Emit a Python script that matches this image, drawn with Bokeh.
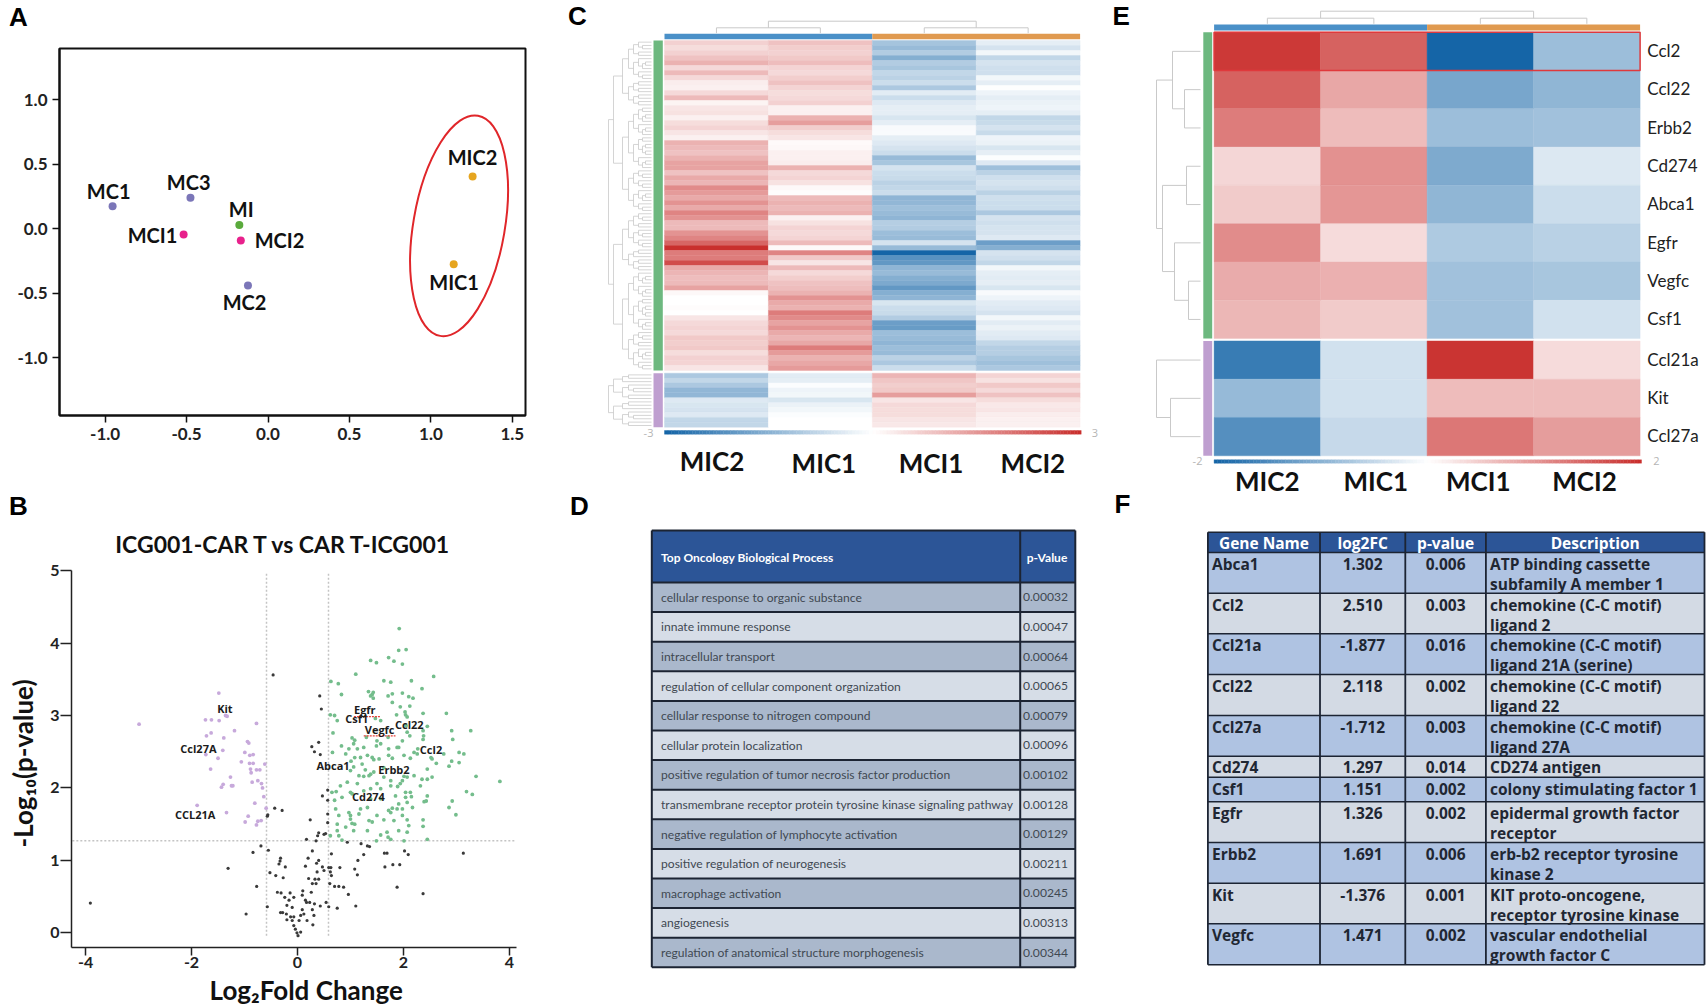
from bokeh.plotting import figure
from bokeh.layouts import column, row
from bokeh.models import Range1d, FixedTicker, Label, LinearColorMapper, ColumnDataSource, NumeralTickFormatter
from bokeh.core.properties import value
from bokeh.embed import file_html
from bokeh.resources import INLINE
import numpy as np

# ---------- Panel A data ----------
pca_labels = ["MC1", "MC2", "MC3", "MI", "MCI1", "MCI2", "MIC1", "MIC2"]
pca_x = [-0.954, -0.123, -0.476, -0.176, -0.518, -0.167, 1.14, 1.256]
pca_y = [0.175, -0.44, 0.24, 0.03, -0.044, -0.09, -0.274, 0.405]
pca_group = ["MC", "MC", "MC", "MI", "MCI", "MCI", "MIC", "MIC"]

# ---------- Panel B data ----------
purple_x = [-2.99, -1.485, -1.737, -1.624, -1.479, -1.359, -1.328, -1.189, -0.774, -1.63, -1.718, -1.391, -0.944, -0.919, -0.994, -1.41, -1.73, -1.50, -1.64, -1.06, -0.90, -0.837, -0.906, -0.837, -0.887, -0.774, -0.711, -0.617, -0.875, -1.265, -1.246, -1.22, -1.403, -1.435, -0.856, -0.749, -0.68, -0.66, -0.636, -0.806, -0.592, -1.894, -1.34, -0.931, -0.988, -0.749, -0.686, -0.774]
purple_y = [2.88, 3.31, 2.94, 2.94, 2.93, 3.00, 2.99, 2.79, 2.89, 2.76, 2.72, 2.69, 2.64, 2.62, 2.49, 2.52, 2.46, 2.41, 2.26, 2.36, 2.45, 2.46, 2.34, 2.34, 2.26, 2.25, 2.25, 2.33, 2.21, 2.15, 2.03, 2.03, 2.05, 2.01, 2.08, 2.10, 2.06, 2.00, 1.88, 1.79, 1.72, 1.76, 1.66, 1.61, 1.53, 1.54, 1.55, 1.49]
black_x = [-3.91, -0.46, 0.42, 0.45, 0.40, 0.27, 0.32, 0.43, 0.57, 0.47, 0.57, 0.57, -0.43, -0.29, -0.56, -0.57, 0.24, 0.57, 0.53, 0.50, 0.40, 0.38, 0.35, 0.17, 0.94, 1.20, 1.32, 1.36, -0.69, -0.84, -0.55, 0.28, 0.64, 1.25, 1.64, 1.69, 2.02, 2.09, 3.13, -1.31, -0.32, -0.33, -0.35, -0.23, 0.20, 0.15, 0.40, 0.36, 0.47, 0.59, 0.63, 0.80, 1.14, 1.08, 1.65, 1.80, 1.93, 0.37, 0.50, -0.52, -0.41, -0.27, 0.21, 0.33, 0.40, 0.28, 0.35, 0.62, 0.64, 0.61, 0.70, 0.78, 0.87, 1.13, -0.77, 0.96, 1.88, 2.37, 0.26, 0.10, 0.15, 0.17, 0.09, -0.38, -0.31, -0.14, -0.24, -0.07, -0.16, -0.20, -0.10, -0.57, 0.23, 0.32, 0.43, 0.54, 0.59, 0.75, 1.10, 0.09, -0.32, -0.21, -0.28, 0.06, 0.28, 0.31, -0.97, -0.20, -0.13, -0.07, 0.03, 0.18, 0.29, -0.07, -0.04, -0.01, 0.06, 0.01, 0.12, -0.10]
black_y = [0.41, 3.56, 3.27, 3.09, 2.63, 2.57, 2.50, 2.46, 1.97, 1.89, 1.83, 1.64, 1.72, 1.69, 1.63, 1.61, 1.56, 1.52, 1.37, 1.36, 1.38, 1.34, 1.27, 1.29, 1.25, 1.23, 1.20, 1.19, 1.20, 1.11, 1.14, 1.13, 1.09, 1.08, 1.10, 1.10, 1.13, 1.08, 1.10, 0.89, 1.03, 0.99, 0.95, 0.91, 1.03, 0.92, 1.00, 0.96, 0.91, 0.90, 0.90, 0.90, 1.00, 0.88, 0.91, 0.94, 0.94, 0.84, 0.86, 0.83, 0.79, 0.76, 0.75, 0.74, 0.74, 0.68, 0.68, 0.84, 0.79, 0.68, 0.64, 0.64, 0.63, 0.80, 0.64, 0.53, 0.63, 0.54, 0.56, 0.58, 0.45, 0.42, 0.52, 0.56, 0.55, 0.55, 0.49, 0.49, 0.45, 0.38, 0.35, 0.36, 0.42, 0.40, 0.37, 0.42, 0.36, 0.34, 0.37, 0.32, 0.28, 0.26, 0.28, 0.24, 0.32, 0.24, 0.26, 0.18, 0.22, 0.22, 0.17, 0.17, 0.11, 0.10, 0.05, 0.00, 0.01, -0.04, 0.26, 0.17]
green_x = [1.92, 1.91, 2.05, 1.72, 1.38, 1.49, 1.82, 1.98, 1.10, 2.57, 0.63, 0.77, 1.63, 1.76, 2.15, 2.35, 1.34, 1.43, 1.41, 1.38, 0.83, 1.71, 1.79, 1.98, 2.10, 2.18, 1.43, 1.79, 1.94, 2.12, 2.03, 2.37, 2.81, 0.62, 0.70, 1.87, 2.04, 2.07, 0.75, 1.47, 1.57, 2.45, 2.05, 2.37, 2.38, 2.37, 2.91, 3.27, 2.93, 0.67, 1.03, 1.08, 1.06, 0.83, 1.30, 1.50, 1.71, 1.88, 2.07, 2.12, 1.98, 0.97, 1.13, 1.25, 1.49, 1.57, 1.72, 1.91, 2.27, 2.20, 2.52, 2.54, 2.76, 3.05, 3.14, 2.91, 3.05, 2.62, 0.66, 0.91, 1.08, 1.01, 1.19, 1.32, 1.41, 1.44, 1.72, 1.79, 2.01, 2.13, 2.26, 2.45, 2.86, 1.00, 1.16, 1.25, 1.38, 1.06, 1.44, 1.63, 2.01, 2.07, 1.98, 1.94, 1.89, 2.20, 2.35, 2.45, 2.54, 3.37, 3.82, 0.65, 0.73, 0.81, 0.84, 0.70, 1.25, 1.03, 1.38, 1.57, 1.76, 2.13, 2.04, 2.04, 2.15, 2.32, 2.45, 2.39, 2.43, 2.92, 3.19, 3.30, 2.86, 2.99, 0.72, 0.78, 0.97, 1.00, 1.00, 0.75, 0.91, 1.03, 1.08, 1.19, 1.35, 1.41, 1.50, 1.63, 1.72, 1.79, 1.76, 1.91, 1.98, 2.07, 1.98, 1.82, 2.07, 2.10, 2.37, 2.37, 0.75, 0.78, 1.06, 0.84, 1.49, 1.57, 1.69, 1.71, 1.76, 1.91, 2.07, 2.45, 1.00, 1.13, 1.35, 1.50, 1.57, 1.38, 1.85, 1.63, 0.94, 1.22, 1.28, 1.54, 1.76, 2.17, 1.88, 1.32, 1.16, 1.32, 0.62, 2.01]
green_y = [4.20, 3.90, 3.91, 3.80, 3.76, 3.73, 3.75, 3.71, 3.57, 3.54, 3.47, 3.44, 3.48, 3.46, 3.48, 3.37, 3.33, 3.32, 3.29, 3.27, 3.29, 3.27, 3.30, 3.31, 3.26, 3.24, 3.24, 3.18, 3.12, 3.13, 3.05, 3.03, 3.03, 3.01, 3.00, 3.01, 3.01, 2.98, 2.93, 2.96, 2.93, 2.85, 2.86, 2.79, 2.72, 2.67, 2.79, 2.79, 2.67, 2.76, 2.69, 2.66, 2.61, 2.58, 2.70, 2.65, 2.70, 2.56, 2.77, 2.72, 2.65, 2.54, 2.54, 2.56, 2.58, 2.61, 2.54, 2.56, 2.54, 2.49, 2.42, 2.40, 2.47, 2.49, 2.47, 2.37, 2.35, 2.34, 2.49, 2.47, 2.42, 2.37, 2.42, 2.45, 2.42, 2.39, 2.45, 2.41, 2.45, 2.41, 2.47, 2.26, 2.30, 2.24, 2.17, 2.16, 2.19, 2.29, 2.22, 2.15, 2.16, 2.15, 2.10, 2.06, 2.02, 2.17, 2.12, 2.12, 2.15, 2.16, 2.09, 1.94, 1.95, 2.03, 1.87, 1.83, 1.96, 1.92, 1.99, 1.99, 2.03, 1.94, 1.94, 1.87, 1.88, 2.03, 1.89, 1.81, 1.82, 1.82, 1.95, 1.91, 1.73, 1.63, 1.71, 1.62, 1.66, 1.62, 1.57, 1.50, 1.46, 1.51, 1.50, 1.71, 1.55, 1.53, 1.62, 1.56, 1.69, 1.72, 1.66, 1.78, 1.71, 1.80, 1.62, 1.55, 1.56, 1.48, 1.56, 1.47, 1.41, 1.34, 1.41, 1.28, 1.27, 1.35, 1.39, 1.32, 1.29, 1.41, 1.39, 1.29, 1.94, 2.06, 2.17, 2.06, 1.85, 1.85, 1.89, 2.28, 2.08, 2.33, 2.25, 2.40, 2.10, 1.73, 1.71, 1.73, 1.64, 1.41, 1.34, 1.27]
gene_labels_b = ["Kit", "Ccl27A", "CCL21A", "Abca1", "Egfr", "Csf1", "Vegfc", "Ccl22", "Ccl2", "Erbb2", "Cd274"]
gene_lx = [-1.37, -1.87, -1.93, 0.67, 1.27, 1.12, 1.55, 2.11, 2.52, 1.82, 1.34]
gene_ly = [3.09, 2.54, 1.63, 2.31, 3.08, 2.96, 2.80, 2.87, 2.53, 2.26, 1.88]

# ---------- Panel C data ----------
c_samples = ["MIC2", "MIC1", "MCI1", "MCI2"]
c_mic2 = [.6, .45, .6, .8, 1.0, .5, .9, .5, .25, .2, .5, .9, .15, .35, .4, .2, .45, .55, .35, .2, 1.0, .9, .8, 1.0, 1.2, 1.2, .8, 1.1, .95, 1.5, 1.3, 1.1, 1.4,
          1.1, 1.6, 1.4, .9, .9, 1.4, 1.6, 2.0, 2.9, 1.7, 1.7, 2.3, 1.1, .95, .85, .9, 1.2, .1, .02, 0, .05, .02, .35, .5, .55, .5, .7, .65, .7, .45, .6, .55, .35]
c_mic1 = [.8, .65, .6, .7, .85, .55, .5, .65, .8, .55, .45, .5, .6, .2, .2, 1.0, 1.25, .65, .45, .35, .08, .1, .2, .2, .25, 1.0, .5, .55, .4, .1, .05, .9, 1.0,
          .9, 1.0, .2, .4, .55, .5, .55, .9, .1, 1.6, .7, .35, .9, .5, .65, .8, .85, 1.0, 1.4, 1.1, 1.0, 1.7, 1.5, 1.2, 1.4, 1.1, .95, 1.15, 1.7, 1.3, 1.0, 1.15, 1.3]
c_mci1 = [-1.05, -1.2, -.9, -1.4, -.9, -1.0, -.7, -.8, -.6, -.95, -.35, -.6, -.4, -.3, -.3, -.45, -.3, -.1, -.08, -.3, -.4, -.5, -.6, -1.2, -1.0, -.5, -.6, -.65, -.8, -.7, -.6, -1.3, -1.25,
          -1.1, -1.2, -1.3, -.85, -.9, -1.15, -1.2, -.5, -1.2, -2.8, -1.9, -1.8, -1.3, -1.2, -1.4, -1.5, -1.8, -1.4, -1.3, -.45, -.6, -.65, -.9, -1.7, -1.75, -1.15, -1.2, -1.3, -1.15, -1.2, -.8, -.95, -.6]
c_mci2 = [-.3, -.5, -.15, -.7, -.5, -.55, -.55, -.15, -.3, -.03, -.2, -.3, -.25, -.2, -.3, -.7, -.65, -.5, -.65, -.2, -.25, -.45, -.3, -.05, -.4, -1.1, -.8, -.55, -.5, -.55, -.8, -.55, -.6,
          -.6, -.95, -.5, -.55, -.5, -.5, -.4, -1.7, -1.4, -.5, -.55, -.7, -.15, -.3, -.35, -.3, -.45, -.1, -.2, -.35, -.4, -.5, -.15, -.35, -.25, -.35, -.4, -.7, -.85, -.85, -1.0, -1.1, -.95]
c2_mic2 = [-.95, -.7, -.95, -1.25, -1.25, -.4, -.45, -.5, -.4, -.7, -.7]
c2_mic1 = [-.35, -.3, -.05, -.2, -.15, -.45, -.25, -.15, -.05, 0, -.02]
c2_mci1 = [.95, .75, .65, .7, 1.25, .35, .5, .45, .45, .35, .3]
c2_mci2 = [.55, .4, .7, .5, .8, .45, .3, .35, .25, .2, .2]

# ---------- Panel D data ----------
d_terms = ["cellular response to organic substance", "innate immune response", "intracellular transport",
           "regulation of cellular component organization", "cellular response to nitrogen compound",
           "cellular protein localization", "positive regulation of tumor necrosis factor production",
           "transmembrane receptor protein tyrosine kinase signaling pathway",
           "negative regulation of lymphocyte activation", "positive regulation of neurogenesis",
           "macrophage activation", "angiogenesis", "regulation of anatomical structure morphogenesis"]
d_pvals = ["0.00032", "0.00047", "0.00064", "0.00065", "0.00079", "0.00096", "0.00102", "0.00128", "0.00129", "0.00211", "0.00245", "0.00313", "0.00344"]

# ---------- Panel E data ----------
e_genes = ["Ccl2", "Ccl22", "Erbb2", "Cd274", "Abca1", "Egfr", "Vegfc", "Csf1", "Ccl21a", "Kit", "Ccl27a"]
e_mic2 = [1.9, 1.5, 1.25, .4, .5, 1.1, .8, .7, -1.7, -.9, -1.45]
e_mic1 = [1.5, .85, .65, 1.05, 1.0, .35, .75, .5, -.4, -.4, -.5]
e_mci1 = [-2.0, -1.15, -.85, -1.1, -.95, -.7, -.8, -.8, 1.95, .65, 1.3]
e_mci2 = [-.85, -.95, -.8, -.3, -.45, -.6, -.75, -.4, .35, .65, .95]

# ---------- Panel F data ----------
f_head = ["Gene Name", "log2FC", "p-value", "Description"]
f_gene = ["Abca1", "Ccl2", "Ccl21a", "Ccl22", "Ccl27a", "Cd274", "Csf1", "Egfr", "Erbb2", "Kit", "Vegfc"]
f_fc = ["1.302", "2.510", "-1.877", "2.118", "-1.712", "1.297", "1.151", "1.326", "1.691", "-1.376", "1.471"]
f_p = ["0.006", "0.003", "0.016", "0.002", "0.003", "0.014", "0.002", "0.002", "0.006", "0.001", "0.002"]
f_desc = [["ATP binding cassette", "subfamily A member 1"], ["chemokine (C-C motif)", "ligand 2"],
          ["chemokine (C-C motif)", "ligand 21A (serine)"], ["chemokine (C-C motif)", "ligand 22"],
          ["chemokine (C-C motif)", "ligand 27A"], ["CD274 antigen"], ["colony stimulating factor 1"],
          ["epidermal growth factor", "receptor"], ["erb-b2 receptor tyrosine", "kinase 2"],
          ["KIT proto-oncogene,", "receptor tyrosine kinase"], ["vascular endothelial", "growth factor C"]]

# ---------- layout constants (reference pixel positions) ----------
COLX = [0, 560, 1100, 1708]
PAGE_H = 1005
SPLIT12 = 490      # boundary between the panels of columns 1 and 2
SPLIT3 = 520       # boundary between E and F (panel letter F lies in E's canvas)
B_TOP = 558        # where the volcano plot's canvas starts
GREY = "#c9c9c9"
LATO = "Lato"


def blank(width, height, xr, yr):
    p = figure(width=width, height=height, x_range=xr, y_range=yr,
               toolbar_location=None, output_backend="svg", min_border=0, min_border_left=0, min_border_right=0,
               min_border_top=0, min_border_bottom=0, x_axis_type=None, y_axis_type=None, frame_align=False)
    p.grid.visible = False
    p.outline_line_color = None
    p.background_fill_color = None
    p.border_fill_color = None
    return p


def strip(x0, x1, y0, y1):
    """A text-only strip whose data space is the page position."""
    return blank(x1 - x0, y1 - y0, Range1d(x0, x1), Range1d(y1, y0))


def note(p, x, y, text, size, font=LATO, style="bold", color="#111111", align="center", angle=0):
    p.add_layout(Label(x=x, y=y, text=text, text_font=font, text_font_size=f"{size}px", text_font_style=style,
                       text_color=color, text_align=align, text_baseline="middle", angle=angle, angle_units="deg"))


def letter(p, x, y, t):
    note(p, x, y, t, 26, font="Liberation Sans", color="#000000")


def mapper(limit):
    ramp = np.linspace(0, 1, 128)
    low = np.array([21, 101, 167])
    high = np.array([201, 47, 45])
    white = np.array([255, 255, 255])
    cols = [white + (low - white) * (1 - t) for t in ramp] + [white + (high - white) * t for t in ramp]
    pal = ["#%02x%02x%02x" % tuple(int(round(v)) for v in c) for c in cols]
    return LinearColorMapper(palette=pal, low=-limit, high=limit)


def cells(p, xs, y0, y1, vals, m):
    src = ColumnDataSource(dict(l=xs, r=[x + 1 for x in xs], t=y0, b=y1, v=vals))
    p.quad(left="l", right="r", top="t", bottom="b", source=src,
           fill_color={"field": "v", "transform": m}, line_color={"field": "v", "transform": m}, line_width=0.4)


def colorbar(p, x0, x1, y0, y1, limit, m):
    vals = list(np.linspace(-limit, limit, 120))
    edges = np.linspace(x0, x1, 121)
    src = ColumnDataSource(dict(l=edges[:-1], r=edges[1:], t=[y0] * 120, b=[y1] * 120, v=vals))
    p.quad(left="l", right="r", top="t", bottom="b", source=src,
           fill_color={"field": "v", "transform": m}, line_color={"field": "v", "transform": m}, line_width=0.4)


# ---------- Panel A ----------
ax0, axu = 267.5, 162.9
ay0, ayu = 228.3, 129.0
a_l, a_r, a_t, a_b = 59.0, 525.0, 48.0, 415.0
hdrA = strip(0, 560, 0, 46)
letter(hdrA, 18, 16, "A")
fA = figure(width=560, height=SPLIT12 - 46, x_range=Range1d((a_l - ax0) / axu, (a_r - ax0) / axu),
            y_range=Range1d((ay0 - a_b) / ayu, (ay0 - a_t) / ayu), toolbar_location=None, output_backend="svg",
            min_border_left=59, min_border_right=35, min_border_top=2, min_border_bottom=75, frame_align=False)
fA.grid.visible = False
fA.outline_line_color = "#111111"
fA.outline_line_width = 2
for ax, ticks in ((fA.xaxis[0], [-1, -.5, 0, .5, 1, 1.5]), (fA.yaxis[0], [-1, -.5, 0, .5, 1])):
    ax.ticker = FixedTicker(ticks=ticks)
    ax.formatter = NumeralTickFormatter(format="0.0")
    ax.major_tick_in = 0
    ax.major_tick_out = 7
    ax.minor_tick_line_color = None
    ax.major_tick_line_color = "#111111"
    ax.major_tick_line_width = 1.5
    ax.axis_line_color = "#111111"
    ax.axis_line_width = 2
    ax.major_label_text_font = LATO
    ax.major_label_text_font_style = "bold"
    ax.major_label_text_font_size = "17px"
    ax.major_label_text_color = "#222222"
    ax.major_label_standoff = 5
group_col = {"MC": "#7b76b8", "MI": "#5aaa3c", "MCI": "#e8218c", "MIC": "#e6a51f"}
fA.scatter(pca_x, pca_y, size=8, color=[group_col[g] for g in pca_group], line_color=None)
fA.ellipse(x=[1.173], y=[0.023], width=91.5, height=223.3, angle=-9.75, angle_units="deg", width_units="screen",
           height_units="screen", fill_color=None, line_color="#e0262a", line_width=2)
A_x = lambda px: (px - ax0) / axu
A_y = lambda py: (ay0 - py) / ayu
label_px = {"MC1": (108.2, 190.8), "MC3": (188.2, 181.8), "MI": (240.7, 208.2), "MCI1": (152, 234.8),
            "MCI2": (279, 239.2), "MC2": (244, 301.2), "MIC2": (472, 156.5), "MIC1": (453.6, 281.5)}
for k, (px, py) in label_px.items():
    note(fA, A_x(px), A_y(py), k, 20)

# ---------- Panel B ----------
bx0, bxu = 297.0, 52.98
by0, byu = 932.3, 72.47
b_l, b_r, b_t, b_b = 71.0, 516.0, 570.0, 947.0
hdrB = strip(0, 560, SPLIT12, B_TOP)
letter(hdrB, 18, 505, "B")
note(hdrB, 283, 543.5, "ICG001-CAR T vs CAR T-ICG001", 23)
ylabB = strip(0, 40, B_TOP, 975)
note(ylabB, 22, 763, "-Log\u2081\u2080(p-value)", 26, angle=90)
fB = figure(width=520, height=975 - B_TOP, x_range=Range1d((b_l - bx0) / bxu, (b_r - bx0) / bxu),
            y_range=Range1d((by0 - b_b) / byu, 5.002), toolbar_location=None, output_backend="svg",
            min_border_left=31, min_border_right=44, min_border_top=int(b_t - B_TOP), min_border_bottom=28, frame_align=False)
fB.grid.visible = False
fB.outline_line_color = None
for ax, ticks, out in ((fB.xaxis[0], [-4, -2, 0, 2, 4], 8), (fB.yaxis[0], [0, 1, 2, 3, 4, 5], 11)):
    ax.ticker = FixedTicker(ticks=ticks)
    ax.formatter = NumeralTickFormatter(format="0")
    ax.major_tick_in = 0
    ax.major_tick_out = out
    ax.minor_tick_line_color = None
    ax.major_tick_line_color = "#222222"
    ax.major_tick_line_width = 1.5
    ax.axis_line_color = "#222222"
    ax.axis_line_width = 1.5
    ax.major_label_text_font = LATO
    ax.major_label_text_font_style = "bold"
    ax.major_label_text_font_size = "16px"
    ax.major_label_text_color = "#222222"
    ax.major_label_standoff = 1
fB.segment(x0=[-0.585, 0.585], y0=[-0.04, -0.04], x1=[-0.585, 0.585], y1=[4.98, 4.98],
           line_color="#c4c4c4", line_dash="2 2", line_width=1.5)
fB.segment(x0=[-4.25], y0=[1.27], x1=[4.13], y1=[1.27], line_color="#c4c4c4", line_dash="2 2", line_width=1.5)
fB.scatter(black_x, black_y, size=3.2, color="#3a3a3a", line_color=None)
fB.scatter(green_x, green_y, size=3.8, color="#74bd8c", line_color=None)
fB.scatter(purple_x, purple_y, size=3.8, color="#c7a9db", line_color=None)
fB.line([1.065, 1.56], [2.985, 2.985], line_color="#e8403a", line_width=1.3, line_dash="2 1")
fB.line([1.25, 1.85], [2.72, 2.72], line_color="#e8403a", line_width=1.3, line_dash="2 1")
src_b = ColumnDataSource(dict(x=gene_lx, y=gene_ly, t=gene_labels_b))
fB.text("x", "y", text="t", source=src_b, text_font=value("Open Sans"), text_font_style="bold", text_font_size="11px",
        text_align="center", text_baseline="middle", text_color="#1c1c1c")
xlabB = strip(0, 560, 975, PAGE_H)
note(xlabB, 305.7, 989, "Log\u2082Fold Change", 26)

# ---------- Panel C ----------
cX = lambda px: (px - 664.0) / 103.9
cY = lambda py: (py - 40.0) / 5.0
fC = blank(COLX[2] - COLX[1], SPLIT12, Range1d(cX(560), cX(1100)), Range1d(cY(SPLIT12), cY(0)))
mC = mapper(2.7)
y_top = list(range(66))
c2_start = cY(372.7)
c2_step = (54.0 / 11) / 5.0
y2_top = [c2_start + j * c2_step for j in range(11)]
for i, (a, b) in enumerate(zip((c_mic2, c_mic1, c_mci1, c_mci2), (c2_mic2, c2_mic1, c2_mci1, c2_mci2))):
    cells(fC, [i] * 66, y_top, [y + 1 for y in y_top], a, mC)
    cells(fC, [i] * 11, y2_top, [y + c2_step for y in y2_top], b, mC)
fC.quad(left=[0, 2], right=[2, 4], top=[cY(33.3)] * 2, bottom=[cY(38.7)] * 2, fill_color=["#4a90c8", "#e09a50"], line_color=None)
fC.quad(left=[cX(653)] * 2, right=[cX(662.3)] * 2, top=[cY(40), cY(372.7)], bottom=[cY(370), cY(426.7)],
        fill_color=["#6db87f", "#bf9fd0"], line_color=None)
colorbar(fC, 0, (1080.7 - 664) / 103.9, cY(430), cY(433.7), 2.7, mC)
note(fC, cX(648), cY(432), "-3", 11, font="Open Sans", style="normal", color="#b5b5b5")
note(fC, cX(1094.4), cY(432), "3", 11, font="Open Sans", style="normal", color="#b5b5b5")
for name, px, py in zip(c_samples, (711.5, 823.4, 930.5, 1032.4), (460.7, 462, 462, 462)):
    note(fC, cX(px), cY(py), name, 26)
letter(fC, cX(577), cY(15), "C")

# column dendrogram for C
fC.multi_line(xs=[[.5, .5, 1.5, 1.5], [2.5, 2.5, 3.5, 3.5], [1, 1, 3, 3]],
              ys=[[cY(32.7), cY(27.3), cY(27.3), cY(32.7)], [cY(32.7), cY(27.3), cY(27.3), cY(32.7)],
                  [cY(27.3), cY(20.7), cY(20.7), cY(27.3)]], line_color=GREY, line_width=1)

# row dendrogram for C: merge heights by tree depth, in pixels from the leaves
depth_h = [43, 38, 29, 23, 18, 13, 9, 6, 3, 1.5]
split_frac = [.52, .38, .6, .45, .55, .33, .5, .62, .42]
seg_x, seg_y = [], []


def grow(lo, hi, depth, y0, step):
    if hi - lo == 1:
        return y0 + (lo + .5) * step, 651.0
    m = lo + max(1, min(hi - lo - 1, int(round((hi - lo) * split_frac[depth % len(split_frac)]))))
    ya, xa = grow(lo, m, depth + 1, y0, step)
    yb, xb = grow(m, hi, depth + 1, y0, step)
    xd = 651.0 - depth_h[min(depth, len(depth_h) - 1)]
    seg_x.append([cX(xa), cX(xd), cX(xd), cX(xb)])
    seg_y.append([cY(ya), cY(ya), cY(yb), cY(yb)])
    return (ya + yb) / 2, xd


grow(0, 100, 0, 40.0, 3.3)
grow(0, 16, 0, 372.7, 3.375)
fC.multi_line(xs=seg_x, ys=seg_y, line_color=GREY, line_width=0.8)

# ---------- Panel D ----------
fD = strip(560, 1100, SPLIT12, PAGE_H)
dr0, drh = 582.0, 29.6
d_x = [651.3, 1019.7, 1074.8]
n = len(d_terms)
tops = [dr0 + i * drh for i in range(n)]
fD.quad(left=[d_x[0]], right=[d_x[2]], top=[530], bottom=[dr0], fill_color="#2c5597", line_color=None)
fD.quad(left=[d_x[0]] * n, right=[d_x[2]] * n, top=tops, bottom=[t + drh for t in tops],
        fill_color=["#aab8cc" if i % 2 == 0 else "#d6dde7" for i in range(n)], line_color=None)
fD.segment(x0=[d_x[0]] * (n + 2), x1=[d_x[2]] * (n + 2), y0=[530, dr0] + [t + drh for t in tops],
           y1=[530, dr0] + [t + drh for t in tops], line_color="#1c2433", line_width=2)
fD.segment(x0=d_x, x1=d_x, y0=[530] * 3, y1=[dr0 + n * drh] * 3, line_color="#1c2433", line_width=2)
fD.text(x=[660.5] * n, y=[t + drh / 2 for t in tops], text=d_terms, text_font=value(LATO), text_font_size="12.1px",
        text_baseline="middle", text_color="#3f4852")
fD.text(x=[1022.5] * n, y=[t + drh / 2 for t in tops], text=d_pvals, text_font=value(LATO), text_font_size="12.1px",
        text_baseline="middle", text_color="#3f4852")
fD.text(x=[660.5, 1026.2], y=[556.5, 556.5], text=["Top Oncology Biological Process", "p-Value"],
        text_font=value(LATO), text_font_size="12px", text_font_style="bold", text_baseline="middle", text_color="#ffffff")
letter(fD, 579, 505, "D")

# ---------- Panel E ----------
eX = lambda px: (px - 1213.6) / 106.5
eY = lambda py: (py - 31.7) / 38.3
fE = blank(COLX[3] - COLX[2], SPLIT3, Range1d(eX(1100), eX(1708)), Range1d(eY(SPLIT3), eY(0)))
mE = mapper(2)
e_rows = [float(i) for i in range(8)] + [8.06, 9.06, 10.06]
for i, vals in enumerate((e_mic2, e_mic1, e_mci1, e_mci2)):
    cells(fE, [i] * 11, e_rows, [r + 1 for r in e_rows], vals, mE)
fE.quad(left=[0, 2], right=[2, 4], top=[eY(24)] * 2, bottom=[eY(30)] * 2, fill_color=["#4a90c8", "#e09a50"], line_color=None)
fE.quad(left=[eX(1202.8)] * 2, right=[eX(1211.7)] * 2, top=[0, 8.06], bottom=[8, 11.06], fill_color=["#6db87f", "#bf9fd0"], line_color=None)
fE.quad(left=[0], right=[4], top=[0], bottom=[1], fill_color=None, line_color="#e0393c", line_width=1.5)
colorbar(fE, 0, eX(1641), eY(459.3), eY(462.7), 2, mE)
note(fE, eX(1197), eY(460.7), "-2", 11, font="Open Sans", style="normal", color="#b5b5b5")
note(fE, eX(1656), eY(460.7), "2", 11, font="Open Sans", style="normal", color="#b5b5b5")
fE.text(x=[eX(1646.7)] * 11, y=[r + .48 for r in e_rows], text=e_genes, text_font=value(LATO), text_font_size="17px",
        text_baseline="middle", text_color="#222222")
for name, px in zip(c_samples, (1266.7, 1375.3, 1477.7, 1584)):
    note(fE, eX(px), eY(480), name, 26)
letter(fE, eX(1120.6), eY(15), "E")
letter(fE, eX(1122), eY(503), "F")
fE.multi_line(xs=[[.5, .5, 1.5, 1.5], [2.5, 2.5, 3.5, 3.5], [1, 1, 3, 3]],
              ys=[[eY(23.3), eY(17.7), eY(17.7), eY(23.3)], [eY(23.3), eY(17.7), eY(17.7), eY(23.3)],
                  [eY(17.7), eY(10.7), eY(10.7), eY(17.7)]], line_color=GREY, line_width=1)
# row merges: (merge height in px, left branch, right branch); ints are rows
e_tree_a = (44, (28, 0, (16, 1, 2)), (38, (14, 3, 4), (26, 5, (12, 6, 7))))
e_tree_b = (44, 8, (30, 9, 10))
ex_seg, ey_seg = [], []


def walk(node):
    if isinstance(node, int):
        return e_rows[node] + .5, 1200.0
    h, a, b = node
    ya, xa = walk(a)
    yb, xb = walk(b)
    xd = 1200.0 - h
    ex_seg.append([eX(xa), eX(xd), eX(xd), eX(xb)])
    ey_seg.append([ya, ya, yb, yb])
    return (ya + yb) / 2, xd


walk(e_tree_a)
walk(e_tree_b)
fE.multi_line(xs=ex_seg, ys=ey_seg, line_color=GREY, line_width=1)

# ---------- Panel F ----------
fF = strip(1100, 1708, SPLIT3, PAGE_H)
f_x = [1207.4, 1319.5, 1404.8, 1485.4, 1704.0]
f_y = [552, 592.7, 633.3, 674, 715, 755.7, 776.7, 801.3, 842, 882.7, 923.3, 964.3]
m = len(f_gene)
fF.quad(left=[f_x[0]], right=[f_x[4]], top=[531.7], bottom=[552], fill_color="#2c5597", line_color=None)
fF.quad(left=[f_x[0]] * m, right=[f_x[4]] * m, top=f_y[:-1], bottom=f_y[1:],
        fill_color=["#afc3e2" if i % 2 == 0 else "#d3dae4" for i in range(m)], line_color=None)
fF.segment(x0=[f_x[0]] * (m + 2), x1=[f_x[4]] * (m + 2), y0=[531.7] + f_y, y1=[531.7] + f_y, line_color="#1c2433", line_width=1.6)
fF.segment(x0=f_x, x1=f_x, y0=[531.7] * 5, y1=[964.3] * 5, line_color="#1c2433", line_width=1.8)
FONT_F = "Open Sans"
FS = "15.5px"
hdr_c = [(f_x[i] + f_x[i + 1]) / 2 for i in range(4)]
fF.text(x=hdr_c, y=[542] * 4, text=f_head, text_font=value(FONT_F), text_font_size=FS, text_font_style="bold",
        text_align="center", text_baseline="middle", text_color="#ffffff")
row_line1 = [t + 11.3 for t in f_y[:-1]]
row_line1[5] = 766.5
row_line1[6] = 788.5
fF.text(x=[1211.5] * m, y=row_line1, text=f_gene, text_font=value(FONT_F), text_font_size=FS, text_font_style="bold",
        text_baseline="middle", text_color="#1f2733")
fF.text(x=[hdr_c[1]] * m, y=row_line1, text=f_fc, text_font=value(FONT_F), text_font_size=FS, text_font_style="bold",
        text_align="center", text_baseline="middle", text_color="#1f2733")
fF.text(x=[hdr_c[2]] * m, y=row_line1, text=f_p, text_font=value(FONT_F), text_font_size=FS, text_font_style="bold",
        text_align="center", text_baseline="middle", text_color="#1f2733")
dx, dy, dt = [], [], []
for y1, lines in zip(row_line1, f_desc):
    for j, ln in enumerate(lines):
        dx.append(1489.5)
        dy.append(y1 + j * 20)
        dt.append(ln)
fF.text(x=dx, y=dy, text=dt, text_font=value(FONT_F), text_font_size=FS, text_font_style="bold",
        text_baseline="middle", text_color="#1f2733")

col1 = column(hdrA, fA, hdrB, row(ylabB, fB, spacing=0), xlabB, spacing=0)
page = row(col1, column(fC, fD, spacing=0), column(fE, fF, spacing=0), spacing=0)
open("out.html", "w").write(file_html(page, INLINE))
